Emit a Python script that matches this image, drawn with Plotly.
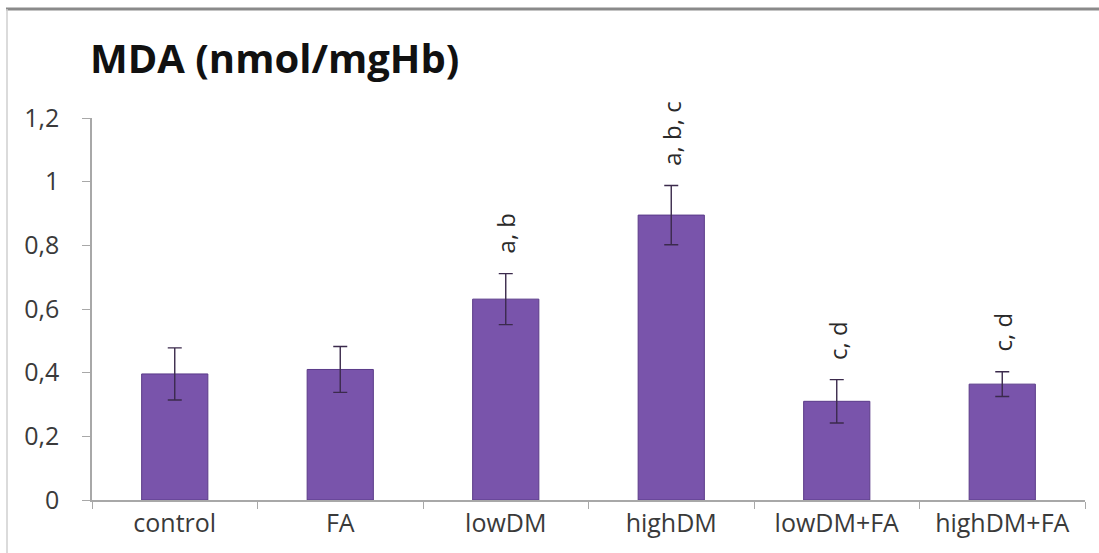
import plotly.graph_objects as go

categories = ["control", "FA", "lowDM", "highDM", "lowDM+FA", "highDM+FA"]
mda_values = [0.396, 0.410, 0.631, 0.895, 0.310, 0.364]
mda_errors = [0.082, 0.072, 0.080, 0.093, 0.068, 0.039]
sig_labels = ["", "", "a, b", "a, b, c", "c, d", "c, d"]
y_tick_values = [0, 0.2, 0.4, 0.6, 0.8, 1.0, 1.2]
y_tick_labels = ["0", "0,2", "0,4", "0,6", "0,8", "1", "1,2"]

W, H = 1099, 553
ML, MR, MT, MB = 92, 14, 118, 53

fig = go.Figure()
fig.add_trace(go.Bar(
    x=categories,
    y=mda_values,
    marker=dict(color="#7954ab", line=dict(color="#5a3a88", width=1)),
    error_y=dict(type="data", array=mda_errors, visible=True,
                 color="#3b2a4c", thickness=1.4, width=7),
    showlegend=False,
    hoverinfo="x+y",
))

for cat, v, e, lab in zip(categories, mda_values, mda_errors, sig_labels):
    if lab:
        fig.add_annotation(
            x=cat, y=v + e, xref="x", yref="y",
            text=lab, textangle=-90, showarrow=False,
            yanchor="bottom", xanchor="center", yshift=18,
            font=dict(family="Open Sans", size=24, color="#2a2a2a"),
        )

pw = W - ML - MR
ph = H - MT - MB

fig.add_annotation(
    text="<b>MDA (nmol/mgHb)</b>", showarrow=False,
    xref="paper", yref="paper",
    x=(88 - ML) / pw, y=1 + (MT - 58) / ph,
    xanchor="left", yanchor="middle",
    font=dict(family="Open Sans", size=40, color="#111111"),
)

# frame lines of the chart area (top and left border)
fig.add_shape(type="line", xref="paper", yref="paper",
              x0=(6 - ML) / pw, x1=(W - ML) / pw,
              y0=1 + (MT - 9) / ph, y1=1 + (MT - 9) / ph,
              line=dict(color="#8a8a8a", width=3))
fig.add_shape(type="line", xref="paper", yref="paper",
              x0=(7 - ML) / pw, x1=(7 - ML) / pw,
              y0=1 + (MT - 9) / ph, y1=-(MB) / ph,
              line=dict(color="#cfcfcf", width=1.5))

fig.update_layout(
    width=W, height=H,
    margin=dict(l=ML, r=MR, t=MT, b=MB),
    paper_bgcolor="white", plot_bgcolor="white",
    bargap=0.6,
    xaxis=dict(
        showline=True, linecolor="#a8a8a8", linewidth=1.5,
        ticks="outside", tickson="boundaries", ticklen=7, tickcolor="#a8a8a8",
        tickfont=dict(family="Open Sans", size=25, color="#3a3a3a"),
        showgrid=False, zeroline=False,
    ),
    yaxis=dict(
        range=[0, 1.2], tickvals=y_tick_values, ticktext=y_tick_labels,
        showline=True, linecolor="#a8a8a8", linewidth=1.5,
        ticks="outside", ticklen=8, tickcolor="#a8a8a8",
        ticklabelstandoff=18,
        tickfont=dict(family="Open Sans", size=25, color="#3a3a3a"),
        showgrid=False, zeroline=False,
    ),
)

fig.write_html("out.html")
